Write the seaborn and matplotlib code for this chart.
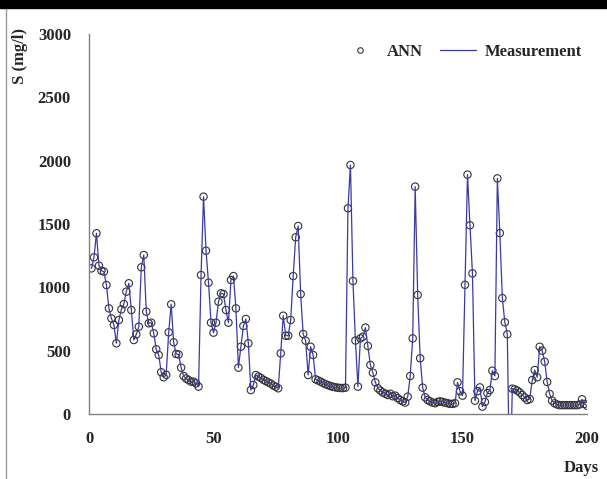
import matplotlib
matplotlib.use("Agg")
from matplotlib import pyplot as plt
from matplotlib.lines import Line2D
from matplotlib.patches import Rectangle
import pandas as pd
import seaborn as sns

# daily sulphate values (mg/l), days 1..200
days = list(range(1, 201))
measurement = [
    1150, 1237, 1427, 1171, 1131, 1124, 1018, 834, 755, 703, 558,
    742, 826, 868, 966, 1032, 821, 584, 629, 689, 1158, 1255,
    808, 716, 721, 637, 511, 466, 330, 290, 310, 645, 866,
    566, 474, 470, 366, 300, 280, 268, 255, 255, 242, 216,
    1097, 1716, 1289, 1037, 721, 642, 721, 887, 953, 947,
    821, 721, 1058, 1089, 834, 366, 531, 695, 750, 558,
    189, 229, 308, 295, 285, 270, 260, 250, 240, 225, 215, 203,
    479, 776, 618, 618, 742, 1089, 1395, 1484, 947, 632, 579,
    308, 531, 466, 274, 265, 255, 245, 235, 228, 220, 215, 210, 208, 205, 205, 208,
    1624, 1966, 1050, 580, 216, 597, 610, 682,
    537, 387, 326, 250, 203, 185, 170, 160, 150, 160, 140, 145, 125, 110, 100,
    90, 137, 300, 597, 1795, 940, 440, 208,
    132, 110, 100, 90, 85, 95, 100, 95, 90, 85, 80, 80, 85,
    250, 180, 145, 1020, 1890, 1490, 1110,
    105, 180, 210, 58, 95, 165, 190, 342, 300,
    1860, 1428, 915, 724, 629,
    -700, 200, 195, 185, 170, 150, 130, 110, 118,
    268, 347, 290, 531, 500, 413, 253, 158, 105, 84,
    75, 70, 70, 70, 70, 70, 70, 70, 70, 75, 116, 80, 65,
]
# the ANN predictions sit on the measured curve in the figure
ann = list(measurement)

y_ticks = [0, 500, 1000, 1500, 2000, 2500, 3000]
x_ticks = [0, 50, 100, 150, 200]


def main():
    df = pd.DataFrame({"day": days, "measurement": measurement, "ann": ann})

    sns.set_style("white")
    plt.rcParams["font.family"] = ["Liberation Serif", "DejaVu Serif"]
    plt.rcParams["font.weight"] = "bold"

    fig = plt.figure(figsize=(6.07, 4.79), dpi=100)
    ax = fig.add_axes([89 / 607, 1 - 414 / 479, 498 / 607, 380 / 479])

    sns.lineplot(data=df, x="day", y="measurement", ax=ax, color="#3a3aa0",
                 linewidth=0.9, label="Measurement")
    sns.scatterplot(data=df, x="day", y="ann", ax=ax, marker="o", s=28,
                    facecolor="none", edgecolor="#333333", linewidth=0.8,
                    label="ANN")

    ax.set_xlim(0, 200)
    ax.set_ylim(0, 3000)
    ax.set_xticks(x_ticks)
    ax.set_yticks(y_ticks)
    ax.set_xlabel("")
    ax.set_ylabel("")
    for side in ["top", "right"]:
        ax.spines[side].set_visible(False)
    for side in ["left", "bottom"]:
        ax.spines[side].set_color("#808080")
        ax.spines[side].set_linewidth(1.0)
    ax.tick_params(axis="y", direction="out", length=5, width=1,
                   color="#808080", pad=8, labelsize=12)
    ax.tick_params(axis="x", direction="inout", length=6, width=1,
                   color="#808080", pad=9, labelsize=12)
    for lbl in ax.get_xticklabels() + ax.get_yticklabels():
        lbl.set_fontweight("bold")

    ann_handle = Line2D([], [], linestyle="none", marker="o", markersize=4,
                        markerfacecolor="none", markeredgecolor="#333333",
                        markeredgewidth=0.8)
    meas_handle = Line2D([], [], color="#3a3aa0", linewidth=0.9)
    ax.legend([ann_handle, meas_handle], ["ANN", "Measurement"], ncol=2,
              loc="upper right", bbox_to_anchor=(1.01, 1.0), frameon=False,
              prop={"weight": "bold", "size": 12}, handlelength=2.2,
              columnspacing=1.0, handletextpad=0.5, borderaxespad=0.2)

    fig.text(20 / 607, 1 - 28 / 479, "S (mg/l)", rotation=90, ha="center",
             va="top", fontsize=12, fontweight="bold")
    fig.text(599 / 607, 1 - 468 / 479, "Days", ha="right", va="center",
             fontsize=12, fontweight="bold")

    # black band on top and thin frame line on the left of the scan
    fig.patches.append(Rectangle((0, 1 - 8 / 479), 1, 8 / 479,
                                 transform=fig.transFigure, color="black",
                                 zorder=10))
    fig.lines.append(Line2D([6 / 607, 6 / 607], [0, 1 - 8 / 479],
                            transform=fig.transFigure, color="#999999",
                            linewidth=1.0))

    fig.savefig("out.png", dpi=100)
    plt.close(fig)


if __name__ == "__main__":
    main()
